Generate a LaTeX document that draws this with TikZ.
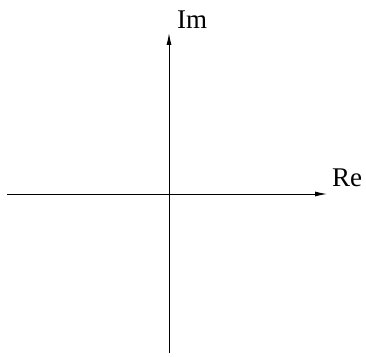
\documentclass[tikz,border=0pt]{standalone}
\usepackage{fontspec}
\setmainfont{Liberation Serif}
\usetikzlibrary{arrows.meta}

\begin{document}
\begin{tikzpicture}[x=1pt, y=1pt,
    axis/.style={-{Latex[length=12pt,width=5pt]}, line width=0.9pt},
    lbl/.style={font=\fontsize{27}{30}\selectfont, inner sep=0pt, anchor=base west}
  ]
  \useasboundingbox (0,0) rectangle (366,356);
  \coordinate (xs) at (7,162);
  \coordinate (xe) at (327,162);
  \coordinate (ys) at (169,3);
  \coordinate (ye) at (169,323);
  \draw[axis] (xs) -- (xe);
  \draw[axis] (ys) -- (ye);
  \node[lbl] (re) at (332,169) {Re};
  \node[lbl] (im) at (177,327) {Im};
\end{tikzpicture}
\end{document}
